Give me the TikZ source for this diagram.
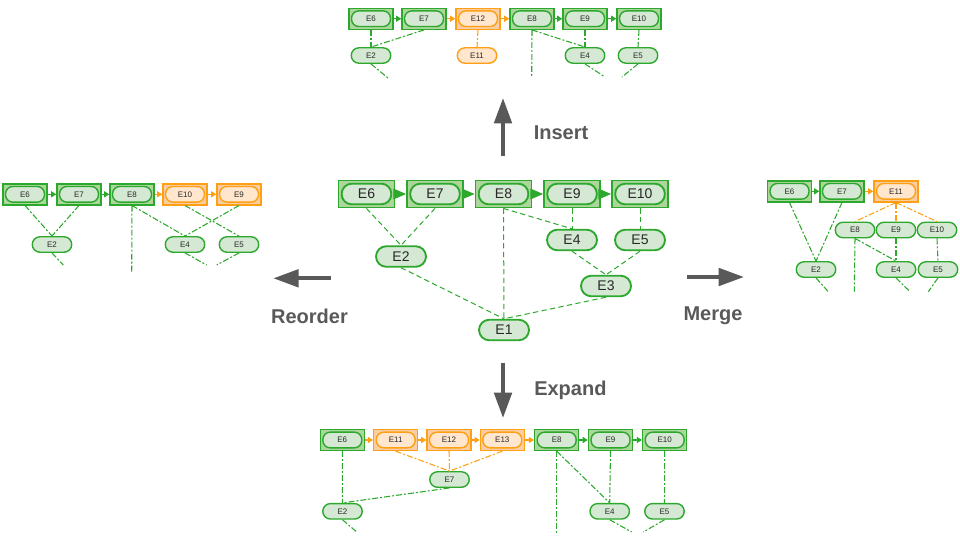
\documentclass[tikz,border=0pt]{standalone}
\usepackage{fontspec}
\setmainfont{Liberation Sans}
\usetikzlibrary{arrows.meta, calc, positioning}
\definecolor{gline}{RGB}{44,168,44}
\definecolor{gpill}{RGB}{213,232,212}
\definecolor{gbox}{RGB}{172,214,156}
\definecolor{oline}{RGB}{255,160,20}
\definecolor{opill}{RGB}{255,230,204}
\definecolor{obox}{RGB}{250,206,164}
\definecolor{opgray}{RGB}{89,89,89}
\definecolor{txt}{RGB}{40,40,40}

\begin{document}
\begin{tikzpicture}[
    x=0.75pt, y=-0.75pt,
    % Styles
    bigbox/.style={rectangle, draw=#1line, fill=#1box, line width=1.4pt, inner sep=0pt,
      minimum width=42pt, minimum height=20.25pt, text=txt, font=\fontsize{10.5}{12}\selectfont,
      path picture={\draw[#1line, fill=#1pill, line width=1.4pt, rounded corners=7.5pt]
        ([xshift=2.4pt,yshift=-2.4pt]path picture bounding box.north west) rectangle
        ([xshift=-2.4pt,yshift=2.4pt]path picture bounding box.south east);}},
    smallbox/.style={rectangle, draw=#1line, fill=#1box, line width=1.05pt, inner sep=0pt,
      minimum width=33pt, minimum height=15.75pt, text=txt, font=\fontsize{6}{7}\selectfont,
      path picture={\draw[#1line, fill=#1pill, line width=1.05pt, rounded corners=5.5pt]
        ([xshift=1.9pt,yshift=-2pt]path picture bounding box.north west) rectangle
        ([xshift=-1.9pt,yshift=2pt]path picture bounding box.south east);}},
    bigpill/.style={rectangle, rounded corners=7.7pt, draw=#1line, fill=#1pill, line width=1.4pt,
      inner sep=0pt, minimum width=37.5pt, minimum height=15.4pt, text=txt,
      font=\fontsize{10.5}{12}\selectfont},
    smallpill/.style={rectangle, rounded corners=5.8pt, draw=#1line, fill=#1pill, line width=1.05pt,
      inner sep=0pt, minimum width=29.6pt, minimum height=11.6pt, text=txt,
      font=\fontsize{6}{7}\selectfont},
    bigchain/.style={draw=gline, line width=0.75pt, -{Triangle[length=9.5pt,width=8pt]}},
    chainarrow/.style={draw=#1line, line width=0.8pt, -{Triangle[length=3.8pt,width=4.5pt]}},
    biglink/.style={draw=gline, line width=0.75pt, dash pattern=on 4pt off 2.5pt},
    link/.style={draw=#1line, line width=0.8pt, dash pattern=on 4.5pt off 1.5pt on 1.5pt off 1.5pt},
    oparrow/.style={draw=opgray, line width=3pt, -{Triangle[length=19pt,width=13pt]}},
    oplabel/.style={text=opgray, inner sep=0pt, font=\fontsize{15}{18}\selectfont\bfseries},
  ]
  \useasboundingbox (0,0) rectangle (960,540);

  % 1) Centre graph
  \node[bigbox=g] (c6) at (366.5,194) {E6};
  \node[bigbox=g] (c7) at (435,194) {E7};
  \node[bigbox=g] (c8) at (503.5,194) {E8};
  \node[bigbox=g] (c9) at (572,194) {E9};
  \node[bigbox=g] (c10) at (640,194) {E10};
  \node[bigpill=g] (c2) at (401,256.5) {E2};
  \node[bigpill=g] (c4) at (572,240) {E4};
  \node[bigpill=g] (c5) at (640,240) {E5};
  \node[bigpill=g] (c3) at (606,286) {E3};
  \node[bigpill=g] (c1) at (504,330) {E1};

  \draw[bigchain] (c6) -- (c7);
  \draw[bigchain] (c7) -- (c8);
  \draw[bigchain] (c8) -- (c9);
  \draw[bigchain] (c9) -- (c10);
  \draw[biglink] (c6.south) -- (c2.north);
  \draw[biglink] (c7.south) -- (c2.north);
  \draw[biglink] (c8.south) -- (c1.north);
  \draw[biglink] (c8.south) -- (c4.north);
  \draw[biglink] (c9.south) -- (c4.north);
  \draw[biglink] (c10.south) -- (c5.north);
  \draw[biglink] (c4.south) -- (c3.north);
  \draw[biglink] (c5.south) -- (c3.north);
  \draw[biglink] (c2.south) -- (c1.north);
  \draw[biglink] (c3.south) -- (c1.north);

  % 2) Operations
  \coordinate (ins0) at (503,156);  \coordinate (ins1) at (503,98);
  \coordinate (exp0) at (503,362.7); \coordinate (exp1) at (503,418);
  \coordinate (reo0) at (330.7,278.3); \coordinate (reo1) at (273.3,278.3);
  \coordinate (mer0) at (687.3,277); \coordinate (mer1) at (744,277);
  \draw[oparrow] (ins0) -- (ins1);
  \draw[oparrow] (exp0) -- (exp1);
  \draw[oparrow] (reo0) -- (reo1);
  \draw[oparrow] (mer0) -- (mer1);
  \node[oplabel, anchor=base west] (inslabel) at (533.5,139.3) {Insert};
  \node[oplabel, anchor=base west] (explabel) at (534,395) {Expand};
  \node[oplabel, anchor=base] (reolabel) at (309.5,323.3) {Reorder};
  \node[oplabel, anchor=base west] (merlabel) at (683.3,320.7) {Merge};

  % 3) Insert
  \node[smallbox=g] (i6) at (371,18.7) {E6};
  \node[smallbox=g] (i7) at (424,18.7) {E7};
  \node[smallbox=o] (i12) at (478,18.7) {E12};
  \node[smallbox=g] (i8) at (532,18.7) {E8};
  \node[smallbox=g] (i9) at (585,18.7) {E9};
  \node[smallbox=g] (i10) at (639,18.7) {E10};
  \node[smallpill=g] (i2) at (371,55.5) {E2};
  \node[smallpill=o] (i11) at (477,55.5) {E11};
  \node[smallpill=g] (i4) at (585,55.5) {E4};
  \node[smallpill=g] (i5) at (638,55.5) {E5};
  \coordinate (i8end) at (531.7,76);
  \coordinate (i2end) at (388,78);
  \coordinate (i4end) at (605,77);
  \coordinate (i5end) at (622,77);

  \draw[chainarrow=g] (i6) -- (i7);
  \draw[chainarrow=o] (i7) -- (i12);
  \draw[chainarrow=o] (i12) -- (i8);
  \draw[chainarrow=g] (i8) -- (i9);
  \draw[chainarrow=g] (i9) -- (i10);
  \draw[link=g] (i6.south) -- (i2.north);
  \draw[link=g] (i7.south) -- (i2.north);
  \draw[link=o] (i12.south) -- (i11.north);
  \draw[link=g] (i8.south) -- (i8end);
  \draw[link=g] (i8.south) -- (i4.north);
  \draw[link=g] (i9.south) -- (i4.north);
  \draw[link=g] (i10.south) -- (i5.north);
  \draw[link=g] (i2.south) -- (i2end);
  \draw[link=g] (i4.south) -- (i4end);
  \draw[link=g] (i5.south) -- (i5end);

  % 4) Reorder
  \node[smallbox=g] (r6) at (25,194.3) {E6};
  \node[smallbox=g] (r7) at (79,194.3) {E7};
  \node[smallbox=g] (r8) at (132,194.3) {E8};
  \node[smallbox=o] (r10) at (185,194.3) {E10};
  \node[smallbox=o] (r9) at (239,194.3) {E9};
  \node[smallpill=g] (r2) at (52,244.5) {E2};
  \node[smallpill=g] (r4) at (185,244.5) {E4};
  \node[smallpill=g] (r5) at (239,244.5) {E5};
  \coordinate (r8end) at (131.7,273);
  \coordinate (r2end) at (63.3,265);
  \coordinate (r4end) at (206.7,265);
  \coordinate (r5end) at (216.7,265);

  \draw[chainarrow=g] (r6) -- (r7);
  \draw[chainarrow=g] (r7) -- (r8);
  \draw[chainarrow=o] (r8) -- (r10);
  \draw[chainarrow=o] (r10) -- (r9);
  \draw[link=g] (r6.south) -- (r2.north);
  \draw[link=g] (r7.south) -- (r2.north);
  \draw[link=g] (r8.south) -- (r8end);
  \draw[link=g] (r8.south) -- (r4.north);
  \draw[link=g] (r10.south) -- (r5.north);
  \draw[link=g] (r9.south) -- (r4.north);
  \draw[link=g] (r2.south) -- (r2end);
  \draw[link=g] (r4.south) -- (r4end);
  \draw[link=g] (r5.south) -- (r5end);

  % 5) Merge
  \node[smallbox=g] (m6) at (789.5,191.3) {E6};
  \node[smallbox=g] (m7) at (842,191.3) {E7};
  \node[smallbox=o] (m11) at (896,191.3) {E11};
  \node[smallpill=g] (m8) at (855,230) {E8};
  \node[smallpill=g] (m9) at (896,230) {E9};
  \node[smallpill=g] (m10) at (937,230) {E10};
  \node[smallpill=g] (m2) at (816,269.5) {E2};
  \node[smallpill=g] (m4) at (896,269.5) {E4};
  \node[smallpill=g] (m5) at (938,269.5) {E5};
  \coordinate (m8end) at (854.3,291.7);
  \coordinate (m2end) at (828.3,291.7);
  \coordinate (m4end) at (910,291.7);
  \coordinate (m5end) at (928.3,291.7);

  \draw[chainarrow=g] (m6) -- (m7);
  \draw[chainarrow=o] (m7) -- (m11);
  \draw[link=g] (m6.south) -- (m2.north);
  \draw[link=g] (m7.south) -- (m2.north);
  \draw[link=o] (m11.south) -- (m8.north);
  \draw[link=o] (m11.south) -- (m9.north);
  \draw[link=o] (m11.south) -- (m10.north);
  \draw[link=g] (m8.south) -- (m8end);
  \draw[link=g] (m8.south) -- (m4.north);
  \draw[link=g] (m9.south) -- (m4.north);
  \draw[link=g] (m10.south) -- (m5.north);
  \draw[link=g] (m2.south) -- (m2end);
  \draw[link=g] (m4.south) -- (m4end);
  \draw[link=g] (m5.south) -- (m5end);

  % 6) Expand
  \node[smallbox=g] (x6) at (342.3,440) {E6};
  \node[smallbox=o] (x11) at (395.7,440) {E11};
  \node[smallbox=o] (x12) at (449,440) {E12};
  \node[smallbox=o] (x13) at (502.3,440) {E13};
  \node[smallbox=g] (x8) at (556.7,440) {E8};
  \node[smallbox=g] (x9) at (610.5,440) {E9};
  \node[smallbox=g] (x10) at (664.7,440) {E10};
  \node[smallpill=g] (x7) at (449.5,479.5) {E7};
  \node[smallpill=g] (x2) at (342.5,511.3) {E2};
  \node[smallpill=g] (x4) at (609.7,511.3) {E4};
  \node[smallpill=g] (x5) at (664.5,511.3) {E5};
  \coordinate (x8end) at (556.7,533.3);
  \coordinate (x2end) at (356.7,532);
  \coordinate (x4end) at (631.7,532);
  \coordinate (x5end) at (643.3,532);

  \draw[chainarrow=o] (x6) -- (x11);
  \draw[chainarrow=o] (x11) -- (x12);
  \draw[chainarrow=o] (x12) -- (x13);
  \draw[chainarrow=o] (x13) -- (x8);
  \draw[chainarrow=g] (x8) -- (x9);
  \draw[chainarrow=g] (x9) -- (x10);
  \draw[link=o] (x11.south) -- (x7.north);
  \draw[link=o] (x12.south) -- (x7.north);
  \draw[link=o] (x13.south) -- (x7.north);
  \draw[link=g] (x6.south) -- (x2.north);
  \draw[link=g] (x7.south) -- (x2.north);
  \draw[link=g] (x8.south) -- (x8end);
  \draw[link=g] (x8.south) -- (x4.north);
  \draw[link=g] (x9.south) -- (x4.north);
  \draw[link=g] (x10.south) -- (x5.north);
  \draw[link=g] (x2.south) -- (x2end);
  \draw[link=g] (x4.south) -- (x4end);
  \draw[link=g] (x5.south) -- (x5end);
\end{tikzpicture}
\end{document}
